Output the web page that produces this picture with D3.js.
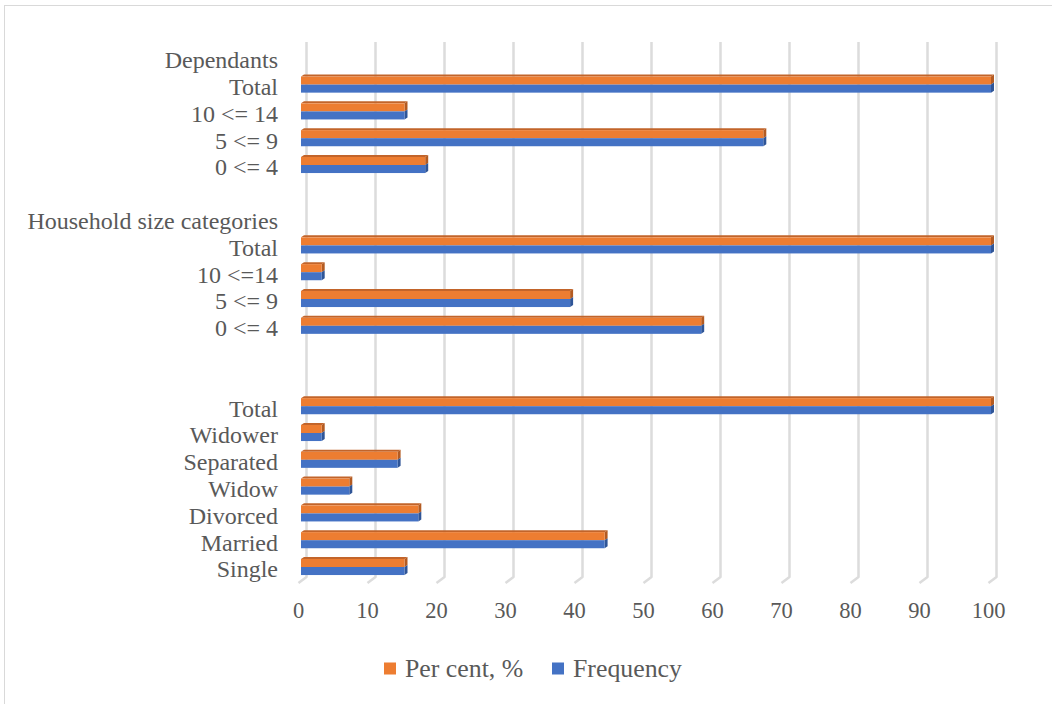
<!DOCTYPE html>
<html>
<head>
<meta charset="utf-8">
<script src="https://cdn.jsdelivr.net/npm/d3@7"></script>
<style>
  html, body { margin: 0; padding: 0; background: #fff; }
  svg { display: block; }
</style>
</head>
<body>
<svg id="chart" width="1052" height="704" font-family="'Liberation Serif', 'Times New Roman', Times, serif"></svg>
<script>
// Category rows, top to bottom (empty strings are spacer rows)
const categories = [
  "Dependants", "Total", "10 <= 14", "5 <= 9", "0 <= 4", "",
  "Household size categories", "Total", "10 <=14", "5 <= 9", "0 <= 4", "", "",
  "Total", "Widower", "Separated", "Widow", "Divorced", "Married", "Single"
];
const perCent = [null, 100, 15, 67, 18, null, null, 100, 3, 39, 58, null, null, 100, 3, 14, 7, 17, 44, 15];
const frequency = [null, 100, 15, 67, 18, null, null, 100, 3, 39, 58, null, null, 100, 3, 14, 7, 17, 44, 15];
const xTicks = [0, 10, 20, 30, 40, 50, 60, 70, 80, 90, 100];
const seriesNames = ["Per cent, %", "Frequency"];
const seriesColors = ["#ED7D31", "#4472C4"];
const sideColors = ["#B35B22", "#2F5597"];
const topColors = ["#C2642A", "#3A63AE"];
const textColor = "#595959";

const svg = d3.select("#chart");

// chart border
svg.append("rect")
  .attr("x", 4.5).attr("y", 5.5)
  .attr("width", 1200).attr("height", 900)
  .attr("fill", "none").attr("stroke", "#d9d9d9").attr("stroke-width", 1);

const x = d3.scaleLinear().domain([0, 100]).range([301, 991]);
const rows = d3.range(categories.length);
const y = d3.scaleBand().domain(rows).range([44.4, 580.4]).paddingInner(0.4).paddingOuter(0.2);

const depthX = 3, depthY = 2;
const backShift = 5.5, frontShift = -2.5;
const wallTop = 42, wallBottom = 577, floorFront = 583;

// gridlines on the back wall, bending onto the floor
const grid = svg.append("g");
xTicks.forEach(t => {
  const xb = x(t) + backShift, xf = x(t) + frontShift;
  grid.append("path")
    .attr("d", `M${xb},${wallTop}L${xb},${wallBottom}L${xf},${floorFront}`)
    .attr("fill", "none").attr("stroke", "#dcdcdc").attr("stroke-width", 2.5)
    .attr("stroke-linejoin", "round");
});

// x tick labels
svg.append("g").selectAll("text").data(xTicks).join("text")
  .attr("x", d => x(d) + frontShift)
  .attr("y", 618)
  .attr("text-anchor", "middle")
  .attr("fill", textColor)
  .attr("font-size", 22.5)
  .text(d => d);

// category labels
svg.append("g").selectAll("text").data(rows).join("text")
  .attr("x", 278)
  .attr("y", i => y(i) + y.bandwidth() / 2 + 2)
  .attr("dy", "0.35em")
  .attr("text-anchor", "end")
  .attr("fill", textColor)
  .attr("font-size", 24)
  .text(i => categories[i]);

// 3D bars: front face, top face, end face
const series = [perCent, frequency];
const h = y.bandwidth() / 2;
const bars = svg.append("g");
series.forEach((vals, s) => {
  rows.forEach(i => {
    const v = vals[i];
    if (v == null) return;
    const x0 = x(0), x1 = x(v);
    const top = y(i) + s * h, bot = top + h;
    const g = bars.append("g");
    if (s === 0) {
      g.append("path")
        .attr("d", `M${x0},${top}L${x0 + depthX},${top - depthY}L${x1 + depthX},${top - depthY}L${x1},${top}Z`)
        .attr("fill", topColors[s]);
    }
    g.append("path")
      .attr("d", `M${x1},${top}L${x1 + depthX},${top - depthY}L${x1 + depthX},${bot - depthY}L${x1},${bot}Z`)
      .attr("fill", sideColors[s]);
    g.append("rect")
      .attr("x", x0).attr("y", top)
      .attr("width", x1 - x0).attr("height", h)
      .attr("fill", seriesColors[s]);
  });
});

// legend
const legend = svg.append("g");
const legendX = [384, 552];
seriesNames.forEach((name, s) => {
  legend.append("rect")
    .attr("x", legendX[s]).attr("y", 662.5)
    .attr("width", 12).attr("height", 12)
    .attr("fill", seriesColors[s]);
  legend.append("text")
    .attr("x", legendX[s] + 21).attr("y", 677)
    .attr("fill", textColor)
    .attr("font-size", 25.8)
    .text(name);
});
</script>
</body>
</html>
